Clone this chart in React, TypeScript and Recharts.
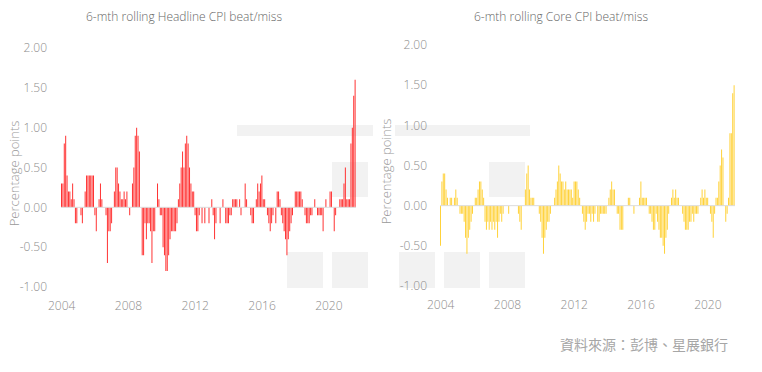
import React from 'react';
import { BarChart, Bar, XAxis, YAxis, ReferenceLine } from 'recharts';

// monthly categories, Jan 2004 .. Aug 2021
const months: string[] = [];
for (let y = 2004; y <= 2021; y++) {
  for (let m = 1; m <= 12; m++) {
    if (y === 2021 && m > 8) break;
    months.push(`${y}-${String(m).padStart(2, '0')}`);
  }
}

const yearTicks = ['2004-01', '2008-01', '2012-01', '2016-01', '2020-01'];
const valueTicks = [-1, -0.5, 0, 0.5, 1, 1.5, 2];

// 6-mth rolling headline CPI beat/miss (pp)
const headline = [
  0.3, 0.3, 0.8, 0.9, 0.4, 0.2, 0.2, 0.1, 0.3, 0.1, -0.2, -0.2,
  0, 0, -0.1, -0.2, 0, 0.2, 0.4, 0.4, 0.4, 0.4, 0.4, 0.4,
  -0.1, -0.3, 0, 0.1, 0.3, 0.1, 0, 0, -0.1, -0.7, -0.3, -0.3,
  -0.2, 0, 0.2, 0.5, 0.5, 0.3, 0.2, 0.1, 0.1, 0.2, 0.1, 0.2,
  0, -0.1, 0, 0.3, 0.5, 0.9, 1.0, 0.9, 0.7, 0, -0.6, -0.6,
  -0.2, -0.4, -0.2, -0.2, -0.3, -0.7, -0.3, -0.3, 0, 0.3, 0.1, -0.1,
  -0.1, -0.5, -0.6, -0.8, -0.8, -0.6, -0.4, -0.3, -0.3, -0.3, -0.3, -0.2,
  0.1, 0.3, 0.5, 0.7, 0.5, 0.8, 0.9, 0.8, 0.5, 0.3, 0.2, 0.2,
  -0.1, -0.3, -0.3, -0.1, 0,
  -0.2, 0, -0.2, 0, 0, -0.2, 0, 0.1, -0.1, -0.4, -0.2,
  0, 0, -0.2, 0, 0.1, 0, -0.2, -0.2, -0.2, -0.1, -0.1, 0.1,
  0.1, 0.1, 0.1, 0, 0.1, -0.1, 0, 0, 0.3, 0.1, 0, 0,
  -0.1, -0.2, -0.2, 0, 0.1, 0.3, 0.2, 0.3, 0.4, 0.1, 0.1, 0,
  -0.1, -0.2, -0.3, -0.2, -0.1, 0, -0.2, 0.2, 0.2, 0.1, -0.1, -0.2,
  -0.3, -0.4, -0.6, -0.4, -0.3, -0.2, -0.1, 0, 0.2, 0.2, 0.2, 0.2,
  0.2, 0.1, 0, -0.1, -0.2, -0.2, -0.2, -0.1, -0.1, 0, 0.1, 0,
  -0.1, -0.1, -0.1, -0.1, -0.3, 0, 0.1, 0, 0, 0.2, 0.2, 0,
  -0.3, -0.1, 0, 0, 0.1, 0.1, 0.1, 0.3, 0.5, 0.1, 0.1, 0.1,
  0.8, 1.0, 1.4, 1.6,
];

// 6-mth rolling core CPI beat/miss (pp)
const core = [
  -0.5, 0.3, 0.4, 0.4, 0.2, 0.1, 0, 0.1, 0.1, 0, 0.1, 0.2,
  0.1, 0, -0.1, -0.1, -0.1, -0.2, -0.4, -0.6, -0.4, -0.3, -0.2, -0.1,
  0, 0.1, 0.1, 0.2, 0.3, 0.3, 0.2, 0.1, -0.2, -0.3, -0.2, -0.3,
  -0.2, -0.3, -0.2, -0.3, -0.2, -0.4, -0.2, -0.1, -0.2, -0.1, 0, 0,
  0, -0.1, 0, 0, 0, 0, 0, 0, -0.1, -0.2, -0.3, 0,
  0, 0.2, 0.4, 0.5, 0.2, 0.1, 0.1, 0.1, 0, 0, 0, -0.1,
  -0.2, -0.4, -0.6, -0.4, -0.3, -0.2, -0.2, -0.1, 0, 0, 0.1, 0.2,
  0.3, 0.5, 0.4, 0.3, 0.3, 0.2, 0.3, 0.2, 0.2, 0.2, 0.2, 0.1,
  0.3, 0.3, 0.3, 0.2, 0.1, 0, -0.1, -0.2, -0.3, -0.2, -0.1, -0.1,
  -0.2, -0.1, -0.2, -0.1, 0, -0.2, -0.2, -0.1, -0.1, -0.1, -0.1, -0.1,
  0, 0.1, 0.2, 0.3, 0.2, 0.2, 0, -0.1, -0.1, -0.3, -0.3, -0.3,
  0, 0, 0, 0.1, 0.1, 0, 0, -0.1, 0, 0, 0, 0.1,
  0.3, 0.1, 0.1, 0.1, 0.1, 0, -0.1, -0.1, -0.2, -0.3, -0.3, -0.1,
  -0.2, -0.3, -0.4, -0.4, -0.5, -0.6, -0.4, -0.3, -0.1, 0, 0.1, 0.2,
  0.1, 0.2, 0.1, 0.1, 0, 0, -0.1, -0.2, -0.3, -0.3, -0.3, -0.2,
  -0.2, -0.1, -0.2, -0.1, -0.1, -0.1, 0, 0.1, 0.2, 0.1, 0.2, 0.1,
  0.1, 0, -0.1, -0.2, -0.4, -0.1, 0.1, 0.1, 0.3, 0.5, 0.7, 0.6,
  0, -0.2, -0.1, 0.1, 0.9, 0.9, 1.4, 1.5,
];

const FONT = '"Open Sans", "DejaVu Sans", sans-serif';
const tickStyle = { fill: '#8c8c8c', fontSize: 12, fontFamily: FONT, fontWeight: 300 };

// light grey blocks sitting behind the charts
const greyBlocks = [
  { x: 237, y: 125, w: 136, h: 11 },
  { x: 332, y: 162, w: 36, h: 35 },
  { x: 287, y: 252, w: 36, h: 36 },
  { x: 332, y: 252, w: 36, h: 36 },
  { x: 395, y: 125, w: 135, h: 11 },
  { x: 489, y: 162, w: 36, h: 35 },
  { x: 399, y: 252, w: 36, h: 36 },
  { x: 444, y: 252, w: 36, h: 36 },
  { x: 489, y: 252, w: 36, h: 36 },
];

function AxisTitle({ viewBox, dx }: any) {
  const vb = viewBox || { x: 0, y: 48, width: 61, height: 239 };
  const cx = vb.x + dx;
  const cy = vb.y + vb.height / 2 + 6;
  return (
    <text
      x={cx}
      y={cy}
      transform={`rotate(-90 ${cx} ${cy})`}
      textAnchor="middle"
      dominantBaseline="central"
      fill="#999"
      fontSize={13}
      fontFamily={FONT}
      fontWeight={300}
    >
      Percentage points
    </text>
  );
}

interface PanelProps {
  values: number[];
  color: string;
  top: number;
  plotHeight: number;
  axisWidth: number;
  rightGap: number;
  tickMargin: number;
  labelDx: number;
}

function CpiPanel({ values, color, top, plotHeight, axisWidth, rightGap, tickMargin, labelDx }: PanelProps) {
  const data = months.map((m, i) => ({ month: m, value: values[i] }));
  return (
    <BarChart
      width={axisWidth + 295 + rightGap}
      height={top + plotHeight + 30}
      data={data}
      margin={{ top, right: rightGap, bottom: 0, left: 0 }}
      barCategoryGap={0}
    >
      <XAxis
        dataKey="month"
        ticks={yearTicks}
        interval={0}
        tickFormatter={(m: string) => m.slice(0, 4)}
        axisLine={false}
        tickLine={false}
        tickMargin={8}
        tick={tickStyle}
        height={30}
      />
      <YAxis
        type="number"
        domain={[-1, 2]}
        ticks={valueTicks}
        tickFormatter={(v: number) => v.toFixed(2)}
        axisLine={false}
        tickLine={false}
        tickMargin={tickMargin}
        tick={tickStyle}
        width={axisWidth}
        label={<AxisTitle dx={labelDx} />}
      />
      <ReferenceLine y={0} stroke="#dcdcdc" />
      <Bar dataKey="value" fill={color} isAnimationActive={false} />
    </BarChart>
  );
}

export default function App() {
  return (
    <div style={{ position: 'absolute', left: 0, top: 0, width: 762, height: 372, background: '#fff', overflow: 'hidden' }}>
      {greyBlocks.map((b, i) => (
        <div key={i} style={{ position: 'absolute', left: b.x, top: b.y, width: b.w, height: b.h, background: '#f2f2f2' }} />
      ))}
      <div style={{ position: 'absolute', left: 0, top: 8, width: 368, textAlign: 'center', fontFamily: FONT, fontWeight: 300, fontSize: 12, color: '#666', lineHeight: '17px' }}>
        6-mth rolling Headline CPI beat/miss
      </div>
      <div style={{ position: 'absolute', left: 380, top: 8, width: 362, textAlign: 'center', fontFamily: FONT, fontWeight: 300, fontSize: 12, color: '#666', lineHeight: '17px' }}>
        6-mth rolling Core CPI beat/miss
      </div>
      <div style={{ position: 'absolute', left: 0, top: 0 }}>
        <CpiPanel values={headline} color="#ff3333" top={48} plotHeight={239} axisWidth={61} rightGap={18} tickMargin={8} labelDx={14} />
      </div>
      <div style={{ position: 'absolute', left: 369, top: 0 }}>
        <CpiPanel values={core} color="#ffd23a" top={45} plotHeight={241} axisWidth={71} rightGap={18} tickMargin={7} labelDx={17} />
      </div>
      <div style={{ position: 'absolute', left: 540, top: 334, width: 188, textAlign: 'right', fontFamily: '"Noto Sans CJK TC", sans-serif', fontSize: 14, color: '#a6a6a6', lineHeight: '20px' }}>
        資料來源：彭博、星展銀行
      </div>
    </div>
  );
}
